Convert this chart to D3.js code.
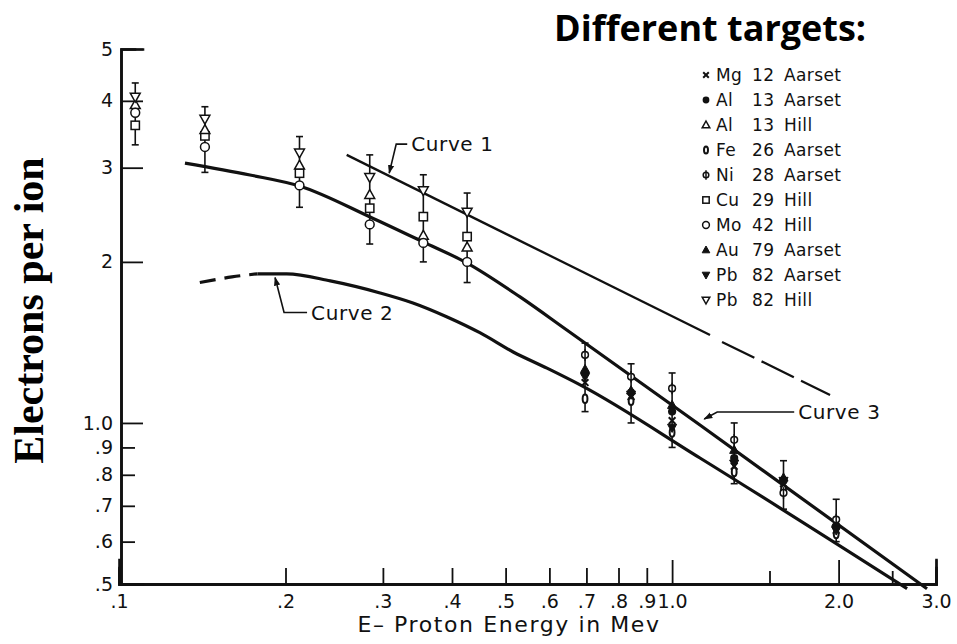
<!DOCTYPE html>
<html>
<head>
<meta charset="utf-8">
<script src="https://cdn.jsdelivr.net/npm/d3@7"></script>
<style>
body { margin: 0; background: #fff; }
.tick text { font-family: "DejaVu Sans", sans-serif; font-size: 19px; fill: #111; }
.axis path { stroke: #111; stroke-width: 2.6px; }
.axis line { stroke: #111; stroke-width: 1.8px; }
</style>
</head>
<body>
<div id="chart"></div>
<script>
// width & height
var svgWidth = 957;
var svgHeight = 644;

// axis ticks
var yMajor = [1, 2, 3, 4, 5];
var yMajorLabels = ["1.0", "2", "3", "4", "5"];
var yMinor = [0.5, 0.6, 0.7, 0.8, 0.9];
var yMinorLabels = [".5", ".6", ".7", ".8", ".9"];
var xMajor = [1, 2, 3];
var xMajorLabels = ["1.0", "2.0", "3.0"];
var xMinor = [0.1, 0.2, 0.3, 0.4, 0.5, 0.6, 0.7, 0.8, 0.9];
var xMinorLabels = [".1", ".2", ".3", ".4", ".5", ".6", ".7", ".8", ".9"];
var xSmall = [1.5, 2.5];

// proton energies (Mev) of the measured groups
var hillEnergy = [0.107, 0.143, 0.212, 0.284, 0.355, 0.426];
var aarsetEnergy = [0.696, 0.843, 1.0, 1.295, 1.59, 1.98];

// Hill (electrons per ion)
var alHill = [3.93, 3.53, 3.03, 2.67, 2.24, 2.13];
var cuHill = [3.60, 3.44, 2.93, 2.52, 2.43, 2.23];
var moHill = [3.80, 3.28, 2.78, 2.35, 2.17, 2.00];
var pbHill = [4.07, 3.70, 3.20, 2.88, 2.72, 2.48];

// Aarset (electrons per ion)
var mgAarset = [1.19, 1.12, 1.01, 0.83, 0.77, 0.63];
var alAarset = [1.24, 1.14, 1.05, 0.86, 0.78, 0.64];
var feAarset = [1.11, 1.10, 0.96, 0.81, 0.75, 0.62];
var niAarset = [1.34, 1.22, 1.16, 0.93, 0.74, 0.66];
var auAarset = [1.26, 1.15, 1.08, 0.89, 0.79, 0.65];
var pbAarset = [1.22, 1.13, 0.98, 0.84, 0.78, 0.63];

// error bars, one per energy group
var errLow = [3.31, 2.94, 2.53, 2.16, 2.00, 1.83, 1.05, 1.00, 0.90, 0.77, 0.69, 0.60];
var errHigh = [4.32, 3.90, 3.43, 3.17, 2.91, 2.69, 1.41, 1.29, 1.24, 1.00, 0.85, 0.72];

// theory curves
var curve1Energy = [0.258, 1.171];
var curve1Value = [3.17, 1.46];
var curve1DashEnergy = [1.231, 1.93];
var curve1DashValue = [1.417, 1.128];
var curve2DashEnergy = [0.140, 0.160, 0.178];
var curve2DashValue = [1.83, 1.875, 1.90];
var curve2Energy = [0.178, 0.201, 0.241, 0.2965, 0.340, 0.392, 0.450, 0.516, 0.594, 0.682, 1.123, 2.66];
var curve2Value = [1.90, 1.90, 1.843, 1.75, 1.676, 1.578, 1.473, 1.357, 1.266, 1.178, 0.86, 0.49];
var curve3Energy = [0.1316, 0.1725, 0.2125, 0.2844, 0.3546, 0.426, 0.531, 0.646, 1.123, 2.89];
var curve3Value = [3.06, 2.907, 2.77, 2.427, 2.18, 1.99, 1.72, 1.49, 0.991, 0.49];

// curve labels and where their arrows point
var curveLabels = ["Curve 1", "Curve 2", "Curve 3"];
var arrowEnergy = [0.308, 0.1915, 1.143];
var arrowValue = [2.93, 1.87, 1.017];

// legend
var legendSym = ["x", "dot", "tri", "oval", "phi", "square", "circle", "triFill", "triDownFill", "triDown"];
var legendEl = ["Mg", "Al", "Al", "Fe", "Ni", "Cu", "Mo", "Au", "Pb", "Pb"];
var legendZ = ["12", "13", "13", "26", "28", "29", "42", "79", "82", "82"];
var legendSrc = ["Aarset", "Aarset", "Hill", "Aarset", "Aarset", "Hill", "Hill", "Aarset", "Aarset", "Hill"];

var svg = d3.select("#chart")
    .append("svg")
    .attr("width", svgWidth)
    .attr("height", svgHeight)
    .style("background", "#fff");

var x = d3.scaleLog().domain([0.1, 3.0]).range([119, 936]);
var y = d3.scaleLog().domain([0.5, 5]).range([584, 49]);

// arrow head
svg.append("defs").append("marker")
    .attr("id", "arrow")
    .attr("viewBox", "0 0 10 10")
    .attr("refX", 9)
    .attr("refY", 5)
    .attr("markerWidth", 9)
    .attr("markerHeight", 9)
    .attr("markerUnits", "userSpaceOnUse")
    .attr("orient", "auto")
    .append("path")
    .attr("d", "M0,1.5 L10,5 L0,8.5 Z")
    .attr("fill", "#111");

// y axis
svg.append("g")
    .attr("class", "axis")
    .attr("transform", `translate(${x(0.1) + 2}, 0)`)
    .call(d3.axisLeft(y).tickValues(yMinor).tickFormat((d, i) => yMinorLabels[i]).tickSize(-14).tickPadding(8));

svg.append("g")
    .attr("class", "axis")
    .attr("transform", `translate(${x(0.1) + 2}, 0)`)
    .call(d3.axisLeft(y).tickValues(yMajor).tickFormat((d, i) => yMajorLabels[i]).tickSize(-22).tickPadding(8));

// x axis
var xAxisY = y(0.5);
svg.append("g")
    .attr("class", "axis")
    .attr("transform", `translate(0, ${xAxisY})`)
    .call(d3.axisBottom(x).tickValues(xMinor).tickFormat((d, i) => xMinorLabels[i]).tickSize(-16).tickPadding(11));

svg.append("g")
    .attr("class", "axis")
    .attr("transform", `translate(0, ${xAxisY})`)
    .call(d3.axisBottom(x).tickValues(xMajor).tickFormat((d, i) => xMajorLabels[i]).tickSize(-24).tickPadding(11));

svg.append("g")
    .attr("class", "axis")
    .attr("transform", `translate(0, ${xAxisY})`)
    .call(d3.axisBottom(x).tickValues(xSmall).tickFormat("").tickSize(-13));

svg.selectAll(".axis path").attr("stroke-linecap", "square");

// axis titles
svg.append("text")
    .attr("x", 509)
    .attr("y", 632)
    .attr("text-anchor", "middle")
    .style("font-family", "DejaVu Sans, sans-serif")
    .style("font-size", "22px")
    .style("letter-spacing", "1.6px")
    .attr("fill", "#111")
    .text("E\u2013 Proton Energy in Mev");

svg.append("text")
    .attr("transform", `translate(43, ${(y(0.5) + y(5)) / 2 - 6}) rotate(-90)`)
    .attr("text-anchor", "middle")
    .style("font-family", "Liberation Serif, serif")
    .style("font-weight", "bold")
    .style("font-size", "42px")
    .attr("fill", "#000")
    .text("Electrons per ion");

// title
svg.append("text")
    .attr("x", 554)
    .attr("y", 41)
    .style("font-family", "Open Sans, sans-serif")
    .style("font-weight", "bold")
    .style("font-size", "36px")
    .attr("fill", "#000")
    .text("Different targets:");

// curves
var line = d3.line()
    .x(d => x(d[0]))
    .y(d => y(d[1]))
    .curve(d3.curveMonotoneX);

function drawCurve(energy, value, width, dash) {
    svg.append("path")
        .datum(d3.zip(energy, value))
        .attr("d", line)
        .attr("fill", "none")
        .attr("stroke", "#111")
        .attr("stroke-width", width)
        .attr("stroke-dasharray", dash);
}

drawCurve(curve1Energy, curve1Value, 2.3, null);
drawCurve(curve1DashEnergy, curve1DashValue, 2.3, "36,8");
drawCurve(curve2DashEnergy, curve2DashValue, 3.2, "16,9");
drawCurve(curve2Energy, curve2Value, 3.2, null);
drawCurve(curve3Energy, curve3Value, 3.2, null);

// error bars
var errEnergy = hillEnergy.concat(aarsetEnergy);
var errData = d3.zip(errEnergy, errLow, errHigh);

var errGroup = svg.append("g")
    .attr("stroke", "#111")
    .attr("stroke-width", 1.6);

errGroup.selectAll("line.bar")
    .data(errData)
    .enter()
    .append("line")
    .attr("x1", d => x(d[0]))
    .attr("x2", d => x(d[0]))
    .attr("y1", d => y(d[1]))
    .attr("y2", d => y(d[2]));

errGroup.selectAll("line.cap-top")
    .data(errData)
    .enter()
    .append("line")
    .attr("x1", d => x(d[0]) - 3.5)
    .attr("x2", d => x(d[0]) + 3.5)
    .attr("y1", d => y(d[2]))
    .attr("y2", d => y(d[2]));

errGroup.selectAll("line.cap-bottom")
    .data(errData)
    .enter()
    .append("line")
    .attr("x1", d => x(d[0]) - 3.5)
    .attr("x2", d => x(d[0]) + 3.5)
    .attr("y1", d => y(d[1]))
    .attr("y2", d => y(d[1]));

// marker shapes
function drawSymbol(g, type, s) {
    var tri = `M0,${-s} L${s * 0.95},${s * 0.7} L${-s * 0.95},${s * 0.7} Z`;
    var triDown = `M0,${s} L${s * 0.95},${-s * 0.7} L${-s * 0.95},${-s * 0.7} Z`;
    if (type === "x") {
        g.append("path")
            .attr("d", `M${-s * 0.7},${-s * 0.7} L${s * 0.7},${s * 0.7} M${-s * 0.7},${s * 0.7} L${s * 0.7},${-s * 0.7}`)
            .attr("stroke", "#111").attr("stroke-width", 2);
    } else if (type === "dot") {
        g.append("circle").attr("r", s * 0.85).attr("fill", "#111");
    } else if (type === "circle") {
        g.append("circle").attr("r", s * 0.85).attr("fill", "#fff").attr("stroke", "#111").attr("stroke-width", 1.5);
    } else if (type === "square") {
        g.append("rect").attr("x", -s * 0.8).attr("y", -s * 0.8).attr("width", s * 1.6).attr("height", s * 1.6)
            .attr("fill", "#fff").attr("stroke", "#111").attr("stroke-width", 1.5);
    } else if (type === "tri") {
        g.append("path").attr("d", tri).attr("fill", "#fff").attr("stroke", "#111").attr("stroke-width", 1.5);
    } else if (type === "triFill") {
        g.append("path").attr("d", tri).attr("fill", "#111").attr("stroke", "#111").attr("stroke-width", 1);
    } else if (type === "triDown") {
        g.append("path").attr("d", triDown).attr("fill", "#fff").attr("stroke", "#111").attr("stroke-width", 1.5);
    } else if (type === "triDownFill") {
        g.append("path").attr("d", triDown).attr("fill", "#111").attr("stroke", "#111").attr("stroke-width", 1);
    } else if (type === "oval") {
        g.append("ellipse").attr("rx", s * 0.5).attr("ry", s * 0.9)
            .attr("fill", "#fff").attr("stroke", "#111").attr("stroke-width", 2);
    } else if (type === "phi") {
        g.append("circle").attr("r", s * 0.7).attr("fill", "#fff").attr("stroke", "#111").attr("stroke-width", 1.5);
        g.append("line").attr("y1", -s * 1.2).attr("y2", s * 1.2).attr("stroke", "#111").attr("stroke-width", 1.5);
    }
}

// data points
var series = [
    { sym: "square", energy: hillEnergy, values: cuHill },
    { sym: "tri", energy: hillEnergy, values: alHill },
    { sym: "circle", energy: hillEnergy, values: moHill },
    { sym: "triDown", energy: hillEnergy, values: pbHill },
    { sym: "oval", energy: aarsetEnergy, values: feAarset },
    { sym: "x", energy: aarsetEnergy, values: mgAarset },
    { sym: "triDownFill", energy: aarsetEnergy, values: pbAarset },
    { sym: "dot", energy: aarsetEnergy, values: alAarset },
    { sym: "triFill", energy: aarsetEnergy, values: auAarset },
    { sym: "phi", energy: aarsetEnergy, values: niAarset }
];

series.forEach(function(s) {
    var size = s.energy === hillEnergy ? 5.2 : 4.8;
    svg.append("g").selectAll("g")
        .data(d3.zip(s.energy, s.values))
        .enter()
        .append("g")
        .attr("transform", d => `translate(${x(d[0])}, ${y(d[1])})`)
        .each(function() {
            drawSymbol(d3.select(this), s.sym, size);
        });
});

// curve labels with leader arrows
var labelDx = [22, 36, 94];
var labelDy = [-29, 35, -7];
curveLabels.forEach(function(label, i) {
    var tx = x(arrowEnergy[i]);
    var ty = y(arrowValue[i]);
    var lx = tx + labelDx[i];
    var ly = ty + labelDy[i];
    var elbowX = i === 2 ? tx + 13 : tx + (i === 0 ? 7 : 9);
    svg.append("path")
        .attr("d", `M${lx - 4},${ly} L${elbowX},${ly} L${tx},${ty}`)
        .attr("fill", "none")
        .attr("stroke", "#111")
        .attr("stroke-width", 1.6)
        .attr("marker-end", "url(#arrow)");
    svg.append("text")
        .attr("x", lx)
        .attr("y", ly + 7)
        .style("font-family", "DejaVu Sans, sans-serif")
        .style("font-size", "20px")
        .style("letter-spacing", "0.6px")
        .attr("fill", "#111")
        .text(label);
});

// legend
var legend = svg.append("g")
    .attr("transform", "translate(706, 75)");

var rows = legend.selectAll("g")
    .data(legendSym)
    .enter()
    .append("g")
    .attr("transform", (d, i) => `translate(0, ${i * 25})`);

rows.each(function(d) {
    drawSymbol(d3.select(this), d, 4);
});

function legendColumn(values, dx) {
    rows.append("text")
        .attr("x", dx)
        .attr("y", 6)
        .style("font-family", "DejaVu Sans, sans-serif")
        .style("font-size", "17px")
        .style("letter-spacing", "0.4px")
        .attr("fill", "#111")
        .text((d, i) => values[i]);
}

legendColumn(legendEl, 10);
legendColumn(legendZ, 46);
legendColumn(legendSrc, 78);
</script>
</body>
</html>
